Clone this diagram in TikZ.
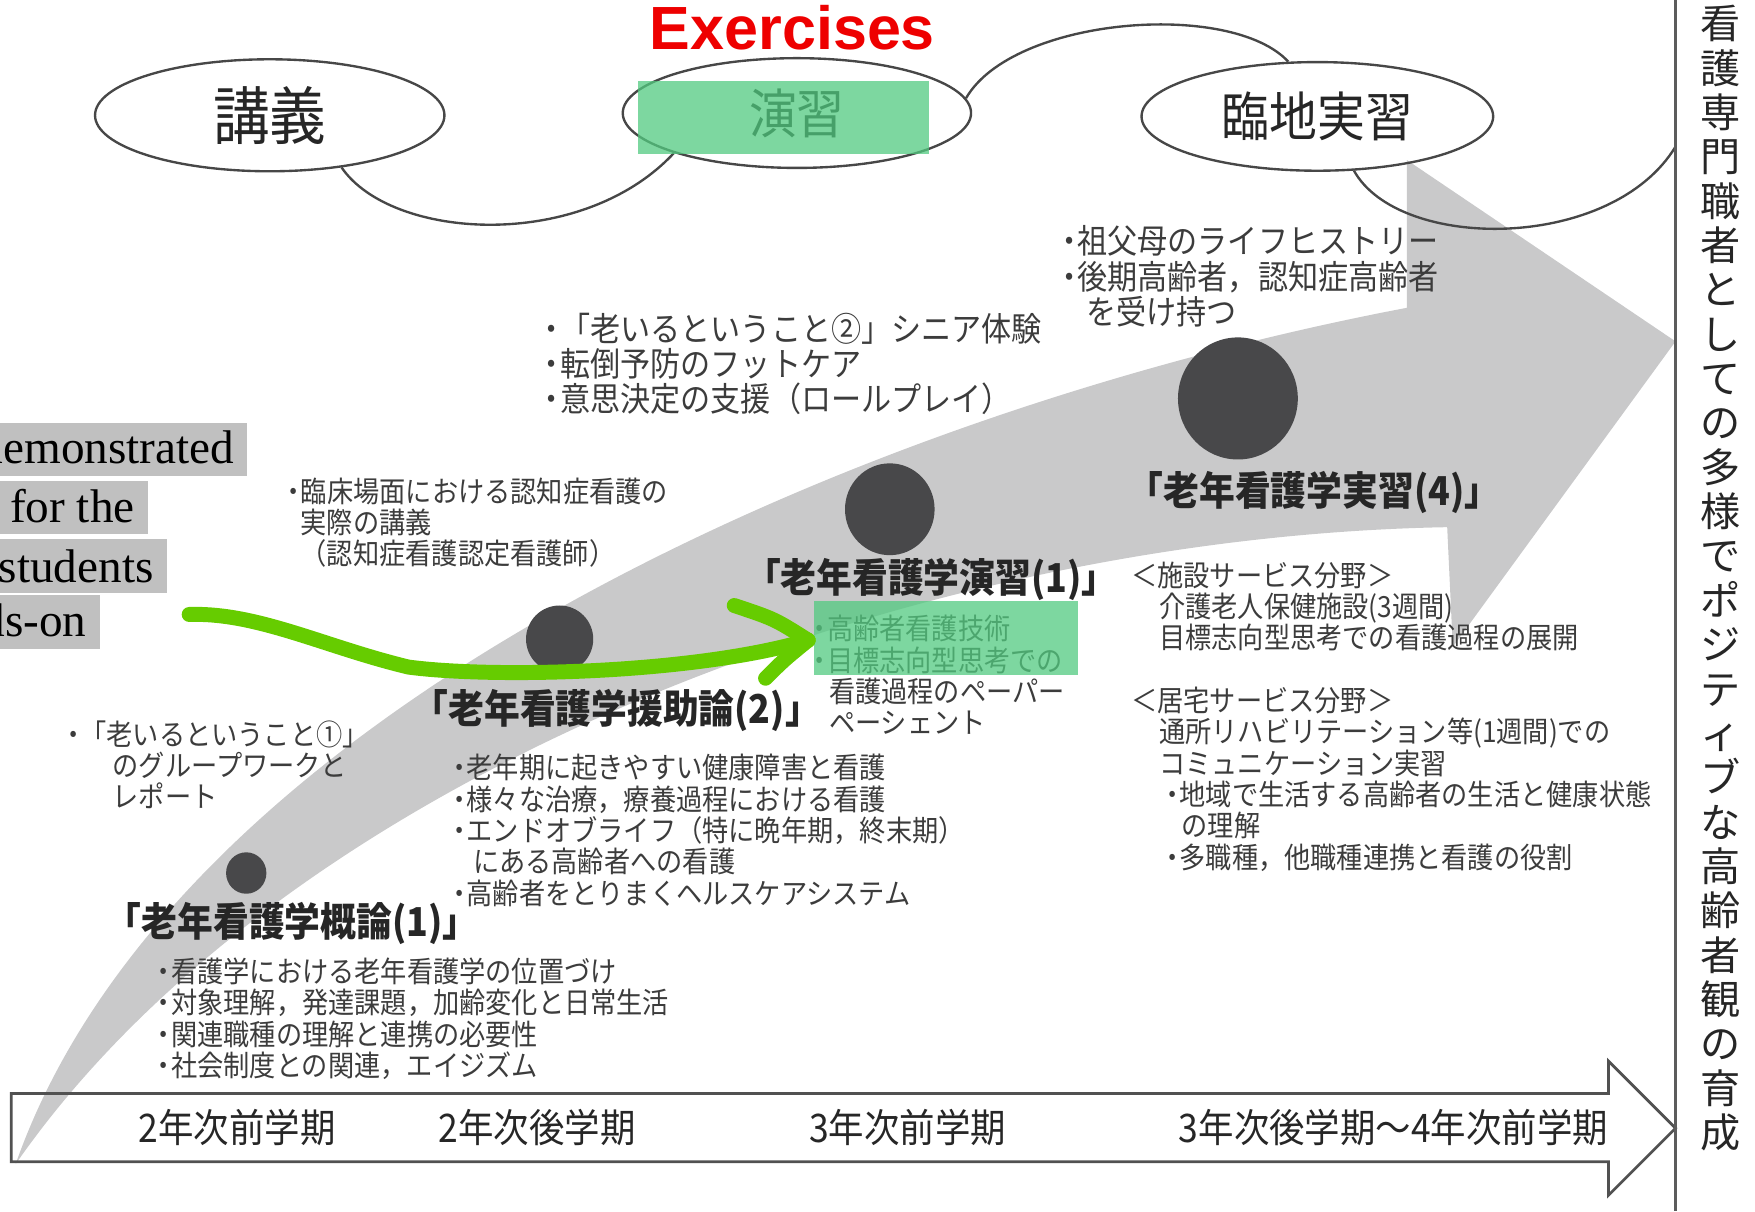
\documentclass[tikz,border=0pt]{standalone}
\usepackage{fontspec}
\setmainfont{Liberation Serif}
\newfontfamily\jp[FakeStretch=0.9]{Noto Sans CJK JP}
\newfontfamily\jpwide{Noto Sans CJK JP}
\newfontfamily\sanslat{Liberation Sans}
\usetikzlibrary{shapes.geometric}

\definecolor{swoosh}{RGB}{201,201,202}
\definecolor{dotgray}{RGB}{72,72,74}
\definecolor{ink}{RGB}{38,38,38}
\definecolor{hlgreen}{RGB}{82,202,128}
\definecolor{pengreen}{RGB}{102,204,0}
\definecolor{labelgray}{RGB}{192,192,192}
\definecolor{exred}{RGB}{238,0,0}

% narrow bullet as in the original leaflet
\newcommand{\bul}{・\hspace{-0.2em}}

\begin{document}
\begin{tikzpicture}[x=0.01cm, y=-0.01cm,
  bubble/.style={ellipse, draw=ink!85, line width=0.6pt, inner sep=0pt, text=ink,
    font=\jp\fontsize{13.5pt}{15pt}\selectfont},
  course/.style={anchor=west, inner sep=0pt, text=ink,
    font=\jp\bfseries\fontsize{10.1pt}{12pt}\selectfont},
  notes/.style={anchor=north west, inner sep=0pt, align=left, text=ink!90,
    font=\jp\fontsize{7.4pt}{7.97pt}\selectfont},
  bignotes/.style={notes, font=\jp\fontsize{8.5pt}{8.96pt}\selectfont},
  term/.style={inner sep=0pt, text=ink, font=\jp\fontsize{10pt}{12pt}\selectfont},
  stage/.style={ellipse, fill=dotgray, inner sep=0pt},
  hilite/.style={fill=hlgreen, fill opacity=0.75},
  tagbox/.style={fill=labelgray},
  tag/.style={anchor=base east, inner sep=0pt, font=\fontsize{12pt}{14pt}\selectfont},
  pen/.style={draw=pengreen, line width=3.8pt, line cap=round, line join=round},
  link/.style={draw=ink!85, line width=0.6pt}
]
\useasboundingbox (0,0) rectangle (1568,1082);

% the big grey sweep behind everything
\fill[swoosh] (14,1040) .. controls (154,640) and (757,370) .. (1257,275)
  -- (1257,143) -- (1497,305) -- (1298,578) -- (1293,471)
  .. controls (800,480) and (250,700) .. (14,1040) -- cycle;

% the three bubbles and their ribbon
\node[bubble, minimum width=3.12cm, minimum height=1.0cm,
  font=\jp\fontsize{16pt}{18pt}\selectfont] (lect) at (241,103) {講義};
\node[bubble, minimum width=3.11cm, minimum height=0.98cm] (prac) at (712,101) {演習};
\node[bubble, minimum width=3.14cm, minimum height=0.97cm] (clin) at (1177,104) {臨地実習};
\coordinate (rim) at (1497,131);
\draw[link] (lect.-36) .. controls (350,215) and (520,225) .. (prac.-162);
\draw[link] (prac.5) .. controls (905,15) and (1100,0) .. (clin.118);
\draw[link] (clin.-56) .. controls (1250,225) and (1440,225) .. (rim);
\fill[hilite] (570,72) rectangle (830,138);

\node[inner sep=0pt, text=exred, font=\sanslat\bfseries\fontsize{15.5pt}{18pt}\selectfont]
  (exer) at (708,25) {Exercises};

% stage dots
\node[stage, minimum width=0.36cm, minimum height=0.37cm] (dot1) at (220,780) {};
\node[stage, minimum width=0.60cm, minimum height=0.60cm] (dot2) at (500,571) {};
\node[stage, minimum width=0.80cm, minimum height=0.82cm] (dot3) at (795,455) {};
\node[stage, minimum width=1.07cm, minimum height=1.09cm] (dot4) at (1106,356) {};

% course titles
\node[course] (gai) at (94,825) {「老年看護学概論(1)」};
\node[course] (enj) at (368,635) {「老年看護学援助論(2)」};
\node[course] (ens) at (665,518) {「老年看護学演習(1)」};
\node[course] (jis) at (1007,440) {「老年看護学実習(4)」};

% notes for each stage
\node[notes] (na) at (53,643) {\bul{}「老いるということ①」\\
  \hspace*{0.47cm}のグループワークと\\
  \hspace*{0.47cm}レポート};
\node[notes] (nb) at (250,426) {\bul{}臨床場面における認知症看護の\\
  \hspace*{0.18cm}実際の講義\\
  \hspace*{0.18cm}（認知症看護認定看護師）};
\node[bignotes] (nc) at (479,279) {\bul{}「老いるということ②」シニア体験\\
  \bul{}転倒予防のフットケア\\
  \bul{}意思決定の支援（ロールプレイ）};
\node[bignotes] (nd) at (941,201) {\bul{}祖父母のライフヒストリー\\
  \bul{}後期高齢者，認知症高齢者\\
  \hspace*{0.29cm}を受け持つ};
\node[notes] (ne) at (398,673) {\bul{}老年期に起きやすい健康障害と看護\\
  \bul{}様々な治療，療養過程における看護\\
  \bul{}エンドオブライフ（特に晩年期，終末期）\\
  \hspace*{0.24cm}にある高齢者への看護\\
  \bul{}高齢者をとりまくヘルスケアシステム};
\node[notes] (nf) at (134,855) {\bul{}看護学における老年看護学の位置づけ\\
  \bul{}対象理解，発達課題，加齢変化と日常生活\\
  \bul{}関連職種の理解と連携の必要性\\
  \bul{}社会制度との関連，エイジズム};
\node[notes] (ng) at (1010,501) {＜施設サービス分野＞\\
  \hspace*{0.25cm}介護老人保健施設(3週間)\\
  \hspace*{0.25cm}目標志向型思考での看護過程の展開\\
  \mbox{}\\
  ＜居宅サービス分野＞\\
  \hspace*{0.25cm}通所リハビリテーション等(1週間)での\\
  \hspace*{0.25cm}コミュニケーション実習\\
  \hspace*{0.25cm}\bul{}地域で生活する高齢者の生活と健康状態\\
  \hspace*{0.45cm}の理解\\
  \hspace*{0.25cm}\bul{}多職種，他職種連携と看護の役割};
\node[notes] (nh) at (720,549) {\bul{}高齢者看護技術\\
  \bul{}目標志向型思考での\\
  \hspace*{0.2cm}看護過程のペーパー\\
  \hspace*{0.2cm}ペーシェント};
\fill[hilite] (727,537) rectangle (963,603);

% hand drawn green arrow
\coordinate (penstart) at (169,549);
\coordinate (pentip) at (722,572);
\coordinate (barbup) at (656,541);
\coordinate (barblow) at (684,606);
\draw[pen] (penstart) .. controls (230,547) and (290,578) .. (365,596)
  .. controls (440,606) and (620,602) .. (pentip);
\draw[pen] (barbup) .. controls (692,553) .. (pentip);
\draw[pen] (barblow) .. controls (700,590) .. (pentip);

% grey caption strips at the left edge
\begin{scope}
\clip (0,0) rectangle (1568,1082);
\fill[tagbox] (0,378) rectangle (221,425);
\fill[tagbox] (0,430) rectangle (132,477);
\fill[tagbox] (0,482) rectangle (149,530);
\fill[tagbox] (0,532) rectangle (89,580);
\node[tag] (cap1) at (210,414) {demonstrated};
\node[tag] (cap2) at (121,467) {for the};
\node[tag] (cap3) at (138,520) {students};
\node[tag] (cap4) at (78,569) {hands-on};
\end{scope}

% time line arrow
\draw[ink!80, line width=0.7pt] (10,977) -- (1437,977) -- (1437,948) -- (1497,1008)
  -- (1437,1068) -- (1437,1038) -- (10,1038) -- cycle;
\node[term] (sem1) at (212,1007) {2年次前学期};
\node[term] (sem2) at (480,1007) {2年次後学期};
\node[term] (sem3) at (811,1007) {3年次前学期};
\node[term] (sem4) at (1245,1007) {3年次後学期〜4年次前学期};

% right column
\draw[ink!75, line width=0.7pt] (1497,0) -- (1497,1082);
\node[anchor=north, inner sep=0pt, align=center, text=ink,
  font=\jpwide\fontsize{10.2pt}{11.27pt}\selectfont] (goal) at (1537,4)
  {看\\護\\専\\門\\職\\者\\と\\し\\て\\の\\多\\様\\で\\ポ\\ジ\\テ\\ィ\\ブ\\な\\高\\齢\\者\\観\\の\\育\\成};
\end{tikzpicture}
\end{document}
